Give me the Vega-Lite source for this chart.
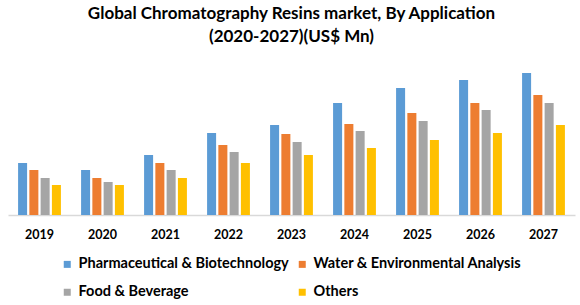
{
  "$schema": "https://vega.github.io/schema/vega-lite/v6.json",
  "width": 567,
  "height": 155,
  "autosize": "none",
  "padding": {"left": 8, "top": 60, "right": 5, "bottom": 90},
  "background": "white",
  "title": {
    "text": ["Global Chromatography Resins market, By Application", "(2020-2027)(US$ Mn)"],
    "font": "Lato",
    "fontSize": 17,
    "fontWeight": "bold",
    "color": "#000000",
    "lineHeight": 23,
    "anchor": "middle",
    "offset": 14
  },
  "data": {
    "values": [
      {"year": "2019", "segment": "Pharmaceutical & Biotechnology", "value": 52},
      {"year": "2019", "segment": "Water & Environmental Analysis", "value": 45},
      {"year": "2019", "segment": "Food & Beverage", "value": 37},
      {"year": "2019", "segment": "Others", "value": 30},
      {"year": "2020", "segment": "Pharmaceutical & Biotechnology", "value": 45},
      {"year": "2020", "segment": "Water & Environmental Analysis", "value": 37},
      {"year": "2020", "segment": "Food & Beverage", "value": 33},
      {"year": "2020", "segment": "Others", "value": 30},
      {"year": "2021", "segment": "Pharmaceutical & Biotechnology", "value": 60},
      {"year": "2021", "segment": "Water & Environmental Analysis", "value": 52},
      {"year": "2021", "segment": "Food & Beverage", "value": 45},
      {"year": "2021", "segment": "Others", "value": 37},
      {"year": "2022", "segment": "Pharmaceutical & Biotechnology", "value": 82},
      {"year": "2022", "segment": "Water & Environmental Analysis", "value": 70},
      {"year": "2022", "segment": "Food & Beverage", "value": 63},
      {"year": "2022", "segment": "Others", "value": 52},
      {"year": "2023", "segment": "Pharmaceutical & Biotechnology", "value": 90},
      {"year": "2023", "segment": "Water & Environmental Analysis", "value": 81},
      {"year": "2023", "segment": "Food & Beverage", "value": 73},
      {"year": "2023", "segment": "Others", "value": 60},
      {"year": "2024", "segment": "Pharmaceutical & Biotechnology", "value": 112},
      {"year": "2024", "segment": "Water & Environmental Analysis", "value": 91},
      {"year": "2024", "segment": "Food & Beverage", "value": 84},
      {"year": "2024", "segment": "Others", "value": 67},
      {"year": "2025", "segment": "Pharmaceutical & Biotechnology", "value": 127},
      {"year": "2025", "segment": "Water & Environmental Analysis", "value": 102},
      {"year": "2025", "segment": "Food & Beverage", "value": 94},
      {"year": "2025", "segment": "Others", "value": 75},
      {"year": "2026", "segment": "Pharmaceutical & Biotechnology", "value": 135},
      {"year": "2026", "segment": "Water & Environmental Analysis", "value": 112},
      {"year": "2026", "segment": "Food & Beverage", "value": 105},
      {"year": "2026", "segment": "Others", "value": 82},
      {"year": "2027", "segment": "Pharmaceutical & Biotechnology", "value": 142},
      {"year": "2027", "segment": "Water & Environmental Analysis", "value": 120},
      {"year": "2027", "segment": "Food & Beverage", "value": 112},
      {"year": "2027", "segment": "Others", "value": 90}
    ]
  },
  "mark": {"type": "bar"},
  "encoding": {
    "x": {
      "field": "year",
      "type": "nominal",
      "scale": {"paddingInner": 0.32, "paddingOuter": 0.16},
      "axis": {
        "title": null,
        "labelAngle": 0,
        "labelFont": "Lato",
        "labelFontSize": 12.5,
        "labelFontWeight": "bold",
        "labelColor": "#000000",
        "labelPadding": 13,
        "ticks": false,
        "domainColor": "#d9d9d9",
        "domainWidth": 1.5
      }
    },
    "xOffset": {
      "field": "segment",
      "type": "nominal",
      "sort": ["Pharmaceutical & Biotechnology", "Water & Environmental Analysis", "Food & Beverage", "Others"],
      "scale": {"paddingInner": 0.2}
    },
    "y": {
      "field": "value",
      "type": "quantitative",
      "scale": {"domain": [0, 155], "nice": false},
      "axis": null
    },
    "color": {
      "field": "segment",
      "type": "nominal",
      "scale": {
        "domain": ["Pharmaceutical & Biotechnology", "Food & Beverage", "Water & Environmental Analysis", "Others"],
        "range": ["#5b9bd5", "#a5a5a5", "#ed7d31", "#ffc000"]
      },
      "legend": {
        "title": null,
        "orient": "none",
        "legendX": 52,
        "legendY": 197,
        "columns": 2,
        "columnPadding": 6,
        "rowPadding": 13,
        "symbolType": "square",
        "symbolSize": 49,
        "symbolStrokeWidth": 0,
        "labelFont": "Lato",
        "labelFontSize": 14.5,
        "labelFontWeight": "bold",
        "labelColor": "#000000",
        "labelOffset": 4,
        "labelLimit": 300
      }
    }
  },
  "config": {"view": {"stroke": null}}
}
